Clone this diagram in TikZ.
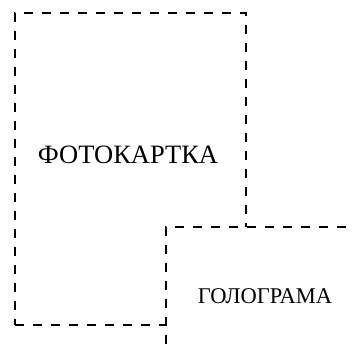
\documentclass[tikz,border=0pt]{standalone}
\usepackage{fontspec}
\setmainfont{Liberation Serif}
\tikzset{
  dbox/.style={draw=black, line width=1.8pt, dash pattern=on 9pt off 9pt, fill=white, rectangle, inner sep=0pt},
  lbl/.style={inner sep=0pt, text=black}
}
\begin{document}
\begin{tikzpicture}[x=1pt,y=-1pt]
\useasboundingbox (0,0) rectangle (355,343);
\node[dbox, minimum width=231pt, minimum height=312pt, anchor=north west] (foto) at (14,12) {};
\node[dbox, minimum width=200pt, minimum height=140pt, anchor=north west] (holo) at (165,226) {};
\node[lbl, font=\fontsize{26.5}{28}\selectfont] (fototext) at (128,155) {ФОТОКАРТКА};
\node[lbl, font=\fontsize{22.5}{24}\selectfont] (holotext) at (265,296) {ГОЛОГРАМА};
\end{tikzpicture}
\end{document}
